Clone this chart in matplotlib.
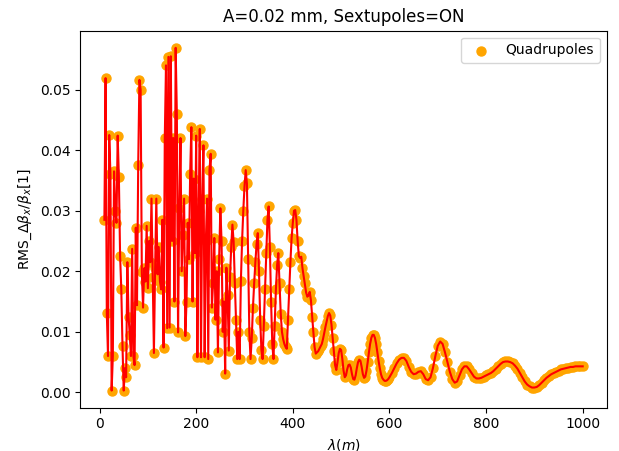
import numpy as np
import matplotlib
matplotlib.use("Agg")
import matplotlib.pyplot as plt

# wavelength grid (m): finer sampling up to 600 m, coarser beyond
fine_start, fine_stop, fine_step = 10.0, 600.0, 2.5
coarse_start, coarse_stop, coarse_step = 605.0, 1000.0, 5.0

# RMS beta-beating values, 10 m .. 600 m every 2.5 m
rms_fine = [
    0.0285, 0.0519, 0.0131, 0.0060, 0.0425, 0.0360, 0.0003, 0.0060, 0.0365, 0.0300,   # 10-32.5
    0.0280, 0.0424, 0.0355, 0.0226, 0.0170, 0.0076, 0.0003, 0.0040, 0.0025, 0.0215,   # 35-57.5
    0.0125, 0.0095, 0.0060, 0.0237, 0.0060, 0.0045, 0.0272, 0.0144, 0.0376, 0.0516,   # 60-82.5
    0.0500, 0.0199, 0.0140, 0.0205, 0.0183, 0.0275, 0.0172, 0.0250, 0.0215, 0.0320,   # 85-107.5
    0.0190, 0.0065, 0.0205, 0.0320, 0.0195, 0.0240, 0.0183, 0.0170, 0.0285, 0.0074,   # 110-132.5
    0.0420, 0.0540, 0.0106, 0.0554, 0.0107, 0.0555, 0.0250, 0.0420, 0.0150, 0.0569,   # 135-157.5
    0.0460, 0.0099, 0.0304, 0.0420, 0.0200, 0.0260, 0.0320, 0.0093, 0.0150, 0.0280,   # 160-182.5
    0.0220, 0.0360, 0.0438, 0.0150, 0.0353, 0.0230, 0.0424, 0.0058, 0.0300, 0.0435,   # 185-207.5
    0.0058, 0.0320, 0.0408, 0.0058, 0.0250, 0.0320, 0.0055, 0.0367, 0.0394, 0.0140,   # 210-232.5
    0.0180, 0.0255, 0.0120, 0.0200, 0.0066, 0.0220, 0.0304, 0.0250, 0.0100, 0.0150,   # 235-257.5
    0.0031, 0.0206, 0.0160, 0.0069, 0.0190, 0.0240, 0.0277, 0.0249, 0.0180, 0.0120,   # 260-282.5
    0.0055, 0.0100, 0.0055, 0.0184, 0.0250, 0.0300, 0.0340, 0.0367, 0.0345, 0.0220,   # 285-307.5
    0.0100, 0.0055, 0.0090, 0.0140, 0.0180, 0.0215, 0.0245, 0.0263, 0.0200, 0.0120,   # 310-332.5
    0.0070, 0.0055, 0.0110, 0.0170, 0.0230, 0.0285, 0.0307, 0.0240, 0.0150, 0.0080,   # 335-357.5
    0.0055, 0.0110, 0.0170, 0.0210, 0.0230, 0.0180, 0.0130, 0.0100, 0.0088, 0.0080,   # 360-382.5
    0.0075, 0.0072, 0.0120, 0.0170, 0.0215, 0.0255, 0.0280, 0.0300, 0.0301, 0.0285,   # 385-407.5
    0.0250, 0.0225, 0.0222, 0.0224, 0.0205, 0.0192, 0.0180, 0.0165, 0.0158, 0.0160,   # 410-432.5
    0.0166, 0.0152, 0.0125, 0.0100, 0.0075, 0.0064, 0.0066, 0.0068, 0.0072, 0.0076,   # 435-457.5
    0.0080, 0.0088, 0.0098, 0.0108, 0.0117, 0.0126, 0.0131, 0.0127, 0.0112, 0.0090,   # 460-482.5
    0.0068, 0.0045, 0.0037, 0.0050, 0.0065, 0.0072, 0.0070, 0.0055, 0.0036, 0.0025,   # 485-507.5
    0.0028, 0.0038, 0.0045, 0.0046, 0.0041, 0.0030, 0.0022, 0.0021, 0.0028, 0.0040,   # 510-532.5
    0.0050, 0.0054, 0.0052, 0.0042, 0.0030, 0.0024, 0.0026, 0.0036, 0.0050, 0.0066,   # 535-557.5
    0.0080, 0.0090, 0.0095, 0.0095, 0.0090, 0.0080, 0.0066, 0.0052, 0.0040, 0.0030,   # 560-582.5
    0.0024, 0.0021, 0.0019, 0.0019, 0.0020, 0.0022, 0.0025,                           # 585-600
]
# 605 m .. 1000 m every 5 m
rms_coarse = [
    0.0032, 0.0040, 0.0048, 0.0054, 0.0057, 0.0057, 0.0052, 0.0042,                   # 605-640
    0.0034, 0.0030, 0.0031, 0.0034, 0.0035, 0.0030, 0.0022, 0.0020, 0.0025, 0.0040,   # 645-690
    0.0060, 0.0077, 0.0084, 0.0080, 0.0066, 0.0050, 0.0034, 0.0022, 0.0016, 0.0018,   # 695-740
    0.0028, 0.0038, 0.0043, 0.0043, 0.0038, 0.0032, 0.0026, 0.0023, 0.0023, 0.0024,   # 745-790
    0.0026, 0.0028, 0.0030, 0.0032, 0.0035, 0.0039, 0.0043, 0.0047, 0.0050, 0.0051,   # 795-840
    0.0051, 0.0050, 0.0048, 0.0044, 0.0039, 0.0032, 0.0025, 0.0018, 0.0013, 0.0010,   # 845-890
    0.0008, 0.0008, 0.0009, 0.0012, 0.0016, 0.0020, 0.0024, 0.0027, 0.0030, 0.0032,   # 895-940
    0.0034, 0.0036, 0.0038, 0.0039, 0.0040, 0.0041, 0.0042, 0.0042, 0.0043, 0.0043,   # 945-990
    0.0043, 0.0043,                                                                   # 995-1000
]

wl_fine = np.arange(fine_start, fine_stop + fine_step / 2, fine_step)
wl_coarse = np.arange(coarse_start, coarse_stop + coarse_step / 2, coarse_step)
wavelengths = np.concatenate([wl_fine, wl_coarse])
rms_values = np.array(rms_fine + rms_coarse)

title_text = "A=0.02 mm, Sextupoles=ON"
legend_label = "Quadrupoles"
x_label = r"$\lambda(m)$"
y_label = r"RMS_$\Delta\beta_x/\beta_x$[1]"

fig = plt.figure(figsize=(6.19, 4.51), dpi=100)
ax = fig.add_axes([0.130, 0.096, 0.850, 0.836])

ax.scatter(wavelengths, rms_values, s=42, color="orange", label=legend_label)
ax.plot(wavelengths, rms_values, color="red", linewidth=1.5)

ax.set_title(title_text)
ax.set_xlabel(x_label)
ax.set_ylabel(y_label)
ax.legend(loc="upper right")

fig.savefig("out.png", dpi=100)
